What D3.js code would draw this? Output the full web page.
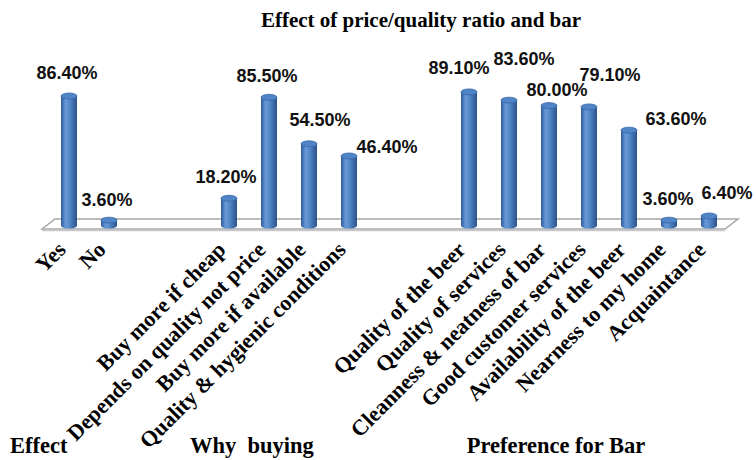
<!DOCTYPE html>
<html>
<head>
<meta charset="utf-8">
<script src="https://cdn.jsdelivr.net/npm/d3@7"></script>
<style>
  body { margin: 0; background: #fff; }
  svg { display: block; }
  .serif { font-family: "Liberation Serif", "Times New Roman", serif; font-weight: bold; }
</style>
</head>
<body>
<svg id="chart" width="756" height="460"></svg>
<script>
// one slot per bar, blanks are the gaps between the three groups
const categories = ["Yes", "No", "", "", "Buy more if cheap", "Depends on quality not price",
  "Buy more if available", "Quality & hygienic conditions", "", "",
  "Quality of the beer", "Quality of services", "Cleanness & neatness of bar",
  "Good customer services", "Availability of the beer", "Nearness to my home", "Acquaintance"];
const values = [86.4, 3.6, null, null, 18.2, 85.5, 54.5, 46.4, null, null,
  89.1, 83.6, 80.0, 79.1, 63.6, 3.6, 6.4];
const groupNames = ["Effect", "Why  buying", "Preference for Bar"];
const title = "Effect of price/quality ratio and bar";

// where the value labels were pushed to avoid each other (layout, not data)
const labelShift = [[-2,-23],[-2,-21],null,null,[-3,-22],[-2,-22],[11,-24],[38,-9],null,null,
  [-10,-24],[15,-42],[8,-16],[21,-32],[47,-12],[-1,-22],[18,-23]];

const svg = d3.select("#chart");
const x = d3.scaleBand().domain(d3.range(categories.length)).range([49, 729]).padding(0);
const y = d3.scaleLinear().domain([0, 100]).range([225.6, 75.6]);
const bw = 16, ry = 3;

const defs = svg.append("defs");
const grad = defs.append("linearGradient").attr("id", "cyl")
  .attr("x1", "0%").attr("x2", "100%").attr("y1", "0%").attr("y2", "0%");
[[0, "#2f5a98"], [0.3, "#6b9bd8"], [0.55, "#5187c8"], [1, "#2c5189"]].forEach(function(s){
  grad.append("stop").attr("offset", s[0]).attr("stop-color", s[1]);
});

// title
svg.append("text")
  .attr("class", "serif")
  .attr("x", 421).attr("y", 27)
  .attr("text-anchor", "middle")
  .style("font-size", "21px")
  .text(title);

// floor of the 3d plot
const r0 = x.range()[0], r1 = x.range()[1];
svg.append("path")
  .attr("d", "M" + (r0 - 7) + ",229 L" + (r0 + 6) + ",219 L" + (r1 + 9) + ",219 L" + (r1 - 4) + ",229 Z")
  .attr("fill", "#fff").attr("stroke", "#a6a6a6").attr("stroke-width", 1.5);
svg.append("line")
  .attr("x1", r0 - 7).attr("x2", r1 - 4).attr("y1", 230.5).attr("y2", 230.5)
  .attr("stroke", "#c8c8c8").attr("stroke-width", 1.5);

const idx = d3.range(categories.length).filter(function(i){ return values[i] !== null; });
const cx = function(i){ return x(i) + x.bandwidth() / 2; };

const bars = svg.append("g").selectAll("g").data(idx).enter().append("g");
bars.append("path")
  .attr("d", function(i){
    const l = cx(i) - bw / 2, r = cx(i) + bw / 2, t = y(values[i]), b = y(0);
    return "M" + l + "," + t + " L" + l + "," + b +
      " A" + (bw / 2) + "," + ry + " 0 0 0 " + r + "," + b +
      " L" + r + "," + t + " Z";
  })
  .attr("fill", "url(#cyl)");
bars.append("ellipse")
  .attr("cx", cx).attr("cy", function(i){ return y(values[i]); })
  .attr("rx", bw / 2).attr("ry", ry)
  .attr("fill", "#4f84c6").attr("stroke", "#3a68a8").attr("stroke-width", 0.8);

// value labels
svg.append("g").selectAll("text").data(idx).enter().append("text")
  .attr("x", function(i){ return cx(i) + labelShift[i][0]; })
  .attr("y", function(i){ return y(values[i]) + labelShift[i][1]; })
  .attr("dy", "0.36em")
  .attr("text-anchor", "middle")
  .style("font-family", "'Liberation Sans', Arial, sans-serif")
  .style("font-weight", "bold").style("font-size", "18px")
  .attr("fill", "#111")
  .text(function(i){ return values[i].toFixed(2) + "%"; });

// category labels, rotated
svg.append("g").selectAll("text").data(idx).enter().append("text")
  .attr("class", "serif")
  .attr("transform", function(i){ return "translate(" + (cx(i) - 2) + ",251) rotate(-45)"; })
  .attr("text-anchor", "end")
  .style("font-size", "22px")
  .text(function(i){ return categories[i]; });

// group names along the bottom
const groupPos = [[10, "start"], [190, "start"], [556, "middle"]];
svg.append("g").selectAll("text").data(groupNames).enter().append("text")
  .attr("class", "serif")
  .attr("x", function(d, i){ return groupPos[i][0]; })
  .attr("y", 453)
  .attr("text-anchor", function(d, i){ return groupPos[i][1]; })
  .style("font-size", "22.5px")
  .style("white-space", "pre")
  .text(function(d){ return d; });
</script>
</body>
</html>
